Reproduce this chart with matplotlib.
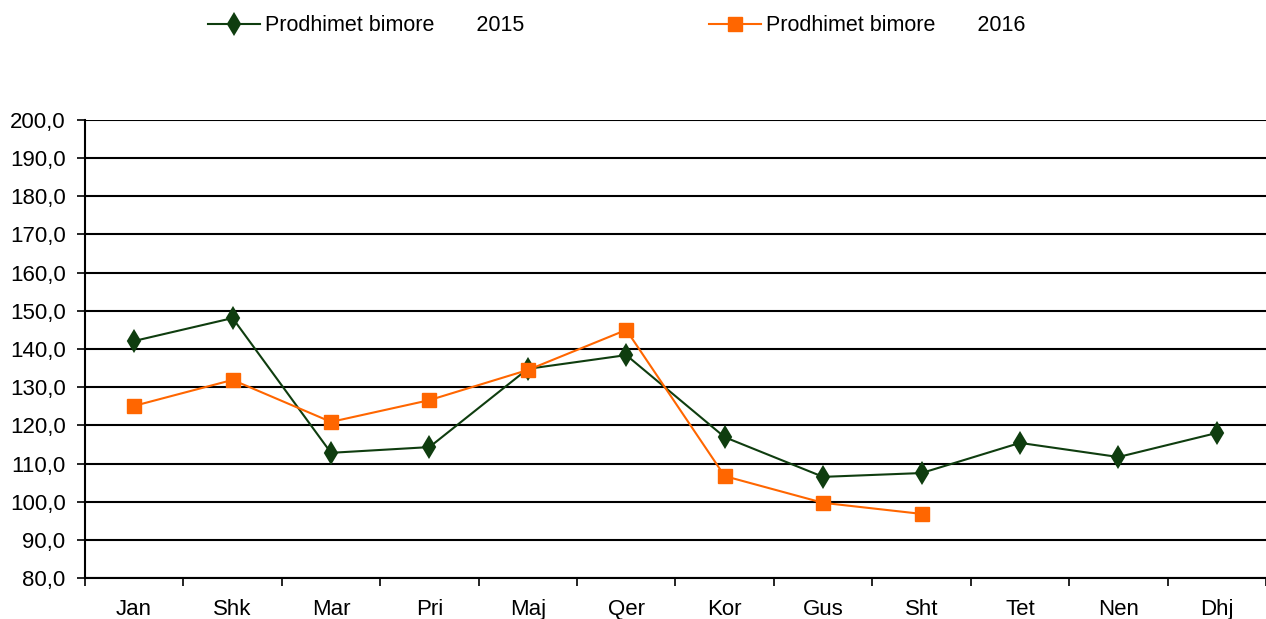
import matplotlib.pyplot as plt
from matplotlib.ticker import FixedLocator, FuncFormatter

plt.rcParams['font.family'] = ['Liberation Sans', 'DejaVu Sans']

months = ['Jan', 'Shk', 'Mar', 'Pri', 'Maj', 'Qer', 'Kor', 'Gus', 'Sht', 'Tet', 'Nen', 'Dhj']
values_2015 = [142.1, 148.1, 112.8, 114.3, 134.8, 138.4, 116.9, 106.5, 107.5, 115.4, 111.7, 118.0]
values_2016 = [125.1, 131.9, 120.9, 126.6, 134.5, 145.0, 106.7, 99.7, 96.8]
label_2015 = 'Prodhimet bimore       2015'
label_2016 = 'Prodhimet bimore       2016'

fig = plt.figure(figsize=(12.66, 6.19), dpi=100)
ax = fig.add_axes([0.0671, 0.0662, 0.9329, 0.7400])

x15 = list(range(len(values_2015)))
x16 = list(range(len(values_2016)))

ax.plot(x15, values_2015, color='#0f3d0f', lw=1.5, marker='d', markersize=10,
        markeredgewidth=1.5, label=label_2015, zorder=3)
ax.plot(x16, values_2016, color='#ff6600', lw=1.5, marker='s', markersize=10,
        label=label_2016, zorder=4)

ax.set_xlim(-0.5, len(months) - 0.5)
ax.set_ylim(80, 200)
ax.set_yticks(range(80, 201, 10))
ax.yaxis.set_major_formatter(FuncFormatter(lambda v, p: f'{v:.1f}'.replace('.', ',')))
ax.grid(axis='y', color='black', lw=1.5)
ax.set_axisbelow(True)

# tick marks between categories, labels at centres
ax.xaxis.set_major_locator(FixedLocator([i - 0.5 for i in range(len(months) + 1)]))
ax.xaxis.set_minor_locator(FixedLocator(x15))
ax.set_xticklabels([''] * (len(months) + 1))
ax.set_xticklabels(months, minor=True)
ax.tick_params(axis='x', which='minor', length=0, pad=15, labelsize=16)
ax.tick_params(axis='x', which='major', length=6, width=1.2, direction='out')
ax.tick_params(axis='y', length=6, width=1.2, labelsize=16, pad=8)

for s in ['top', 'right']:
    ax.spines[s].set_visible(False)
for s in ['left', 'bottom']:
    ax.spines[s].set_linewidth(1.5)

fig.legend(loc='center left', bbox_to_anchor=(0.149, 0.958), ncol=2, frameon=False,
           fontsize=15.5, handlelength=2.4, handletextpad=0.25, columnspacing=8.6)

fig.savefig('out.png', dpi=100)
